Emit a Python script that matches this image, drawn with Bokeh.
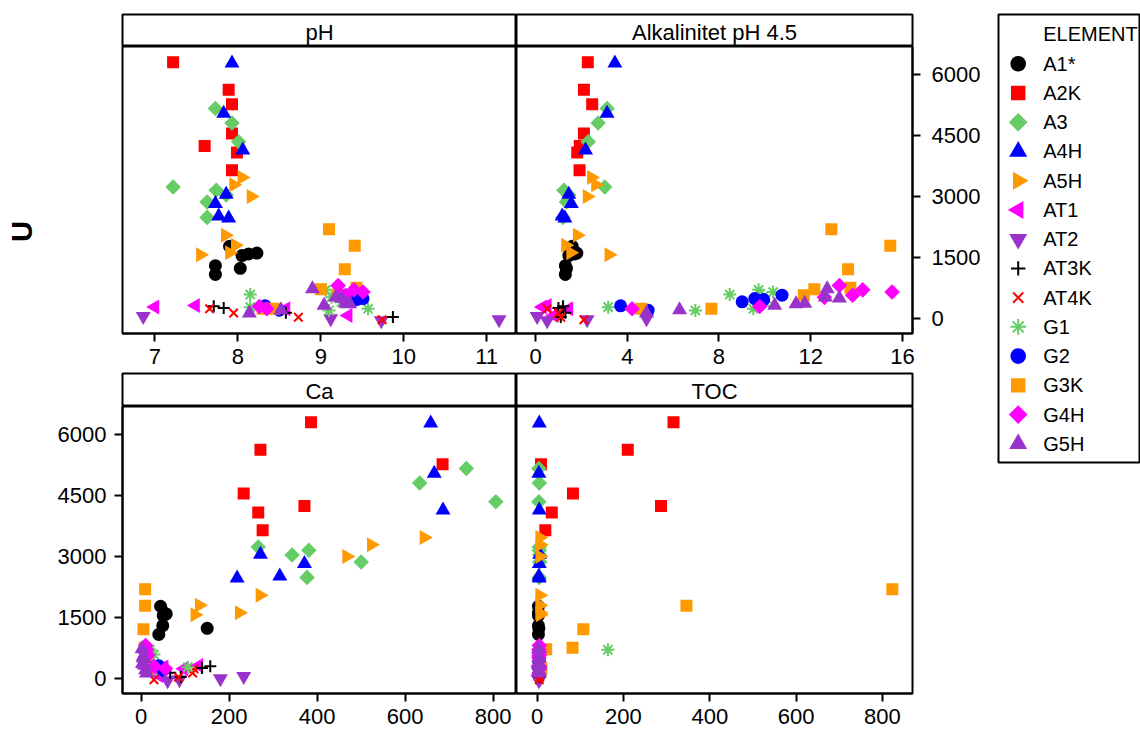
import math
from bokeh.plotting import figure
from bokeh.layouts import row, column
from bokeh.models import Range1d, FixedTicker, ColumnDataSource
from bokeh.core.properties import value
from bokeh.embed import file_html
from bokeh.resources import INLINE

FONT = "Liberation Sans"

ELEMENTS = ["A1*", "A2K", "A3", "A4H", "A5H", "AT1", "AT2", "AT3K", "AT4K",
            "G1", "G2", "G3K", "G4H", "G5H"]
PANELS = ["pH", "Alkalinitet pH 4.5", "Ca", "TOC"]
X_TICKS_PH = [7, 8, 9, 10, 11]
X_TICKS_ALK = [0, 4, 8, 12, 16]
X_TICKS_CA = [0, 200, 400, 600, 800]
X_TICKS_TOC = [0, 200, 400, 600, 800]
Y_TICKS = [0, 1500, 3000, 4500, 6000]

# ---- data per element: U, pH, Alkalinitet, Ca, TOC ----
A1_U = [1780, 1610, 1590, 1550, 1300, 1235, 1085]
A1_PH = [7.90, 8.23, 8.13, 8.05, 7.73, 8.03, 7.73]
A1_ALK = [1.60, 1.80, 1.70, 1.45, 1.30, 1.35, 1.30]
A1_CA = [44, 53, 57, 50, 49, 150, 40]
A1_TOC = [3, 3, 4, 3, 3, 4, 3]

A2K_U = [6310, 5635, 5280, 4555, 4250, 4090, 3650]
A2K_PH = [7.22, 7.89, 7.93, 7.93, 7.60, 7.99, 7.93]
A2K_ALK = [2.28, 2.11, 2.47, 2.11, 1.93, 1.82, 1.92]
A2K_CA = [386, 271, 685, 233, 371, 266, 276]
A2K_TOC = [316, 210, 9, 83, 287, 34, 19]

A3_U = [5175, 4815, 4355, 3240, 3160, 3040, 2870, 2490]
A3_PH = [7.73, 7.93, 8.01, 7.22, 7.74, 7.86, 7.63, 7.63]
A3_ALK = [3.12, 2.73, 2.30, 3.02, 1.24, 1.45, 1.35, 1.20]
A3_CA = [739, 633, 806, 266, 381, 343, 500, 377]
A3_TOC = [4, 5, 4, 5, 5, 6, 6, 5]

A4H_U = [6290, 5050, 4145, 3055, 2830, 2520, 2470]
A4H_PH = [7.93, 7.83, 8.06, 7.86, 7.73, 7.77, 7.89]
A4H_ALK = [3.46, 3.12, 2.18, 1.45, 1.56, 1.16, 1.28]
A4H_CA = [658, 666, 686, 271, 371, 315, 218]
A4H_TOC = [5, 4, 5, 6, 5, 4, 5]

A5H_U = [3475, 3295, 3005, 2050, 1805, 1570, 1620]
A5H_PH = [8.05, 7.95, 8.16, 7.85, 7.97, 7.55, 7.90]
A5H_ALK = [2.44, 2.62, 2.25, 1.82, 1.31, 3.20, 1.53]
A5H_CA = [643, 523, 467, 270, 132, 122, 223]
A5H_TOC = [6, 7, 6, 6, 6, 7, 6]

AT1_U = [280, 320, 240, 75]
AT1_PH = [7.00, 7.49, 8.58, 9.33]
AT1_ALK = [0.30, 0.51, 1.45, 0.80]
AT1_CA = [52, 131, 97, 40]
AT1_TOC = [5, 5, 6, 4]

AT2_U = [50, 0, -50, -30]
AT2_PH = [6.86, 9.12, 9.73, 11.15]
AT2_ALK = [0.07, 4.84, 0.51, 2.25]
AT2_CA = [233, 180, 60, 87]
AT2_TOC = [5, 6, 4, 5]

AT3K_U = [300, 260, 140, 35]
AT3K_PH = [7.71, 7.83, 8.58, 9.87]
AT3K_ALK = [1.20, 1.00, 1.30, 1.10]
AT3K_CA = [157, 138, 66, 90]
AT3K_TOC = [5, 5, 4, 6]

AT4K_U = [240, 135, 30, -30]
AT4K_PH = [7.66, 7.95, 8.73, 9.74]
AT4K_ALK = [0.50, 1.00, 1.10, 2.11]
AT4K_CA = [120, 117, 85, 29]
AT4K_TOC = [5, 4, 6, 5]

G1_U = [705, 650, 590, 524, 401, 279, 238, 197]
G1_PH = [9.06, 9.20, 8.15, 9.13, 9.25, 8.15, 9.57, 9.10]
G1_ALK = [9.73, 10.36, 8.47, 9.90, 10.00, 3.17, 9.50, 6.97]
G1_CA = [20, 15, 29, 18, 12, 106, 20, 25]
G1_TOC = [164, 5, 5, 4, 5, 6, 5, 4]

G2_U = [575, 490, 465, 410, 312, 205]
G2_PH = [9.25, 9.51, 9.43, 9.35, 8.33, 8.50]
G2_ALK = [10.75, 9.56, 9.95, 9.01, 3.71, 4.91]
G2_CA = [10, 8, 6, 12, 40, 50]
G2_TOC = [4, 5, 5, 4, 6, 5]

G3K_U = [2200, 1790, 1215, 760, 720, 570, 240, 240]
G3K_PH = [9.10, 9.41, 9.29, 9.43, 9.00, 9.20, 8.44, 8.30]
G3K_ALK = [12.90, 15.47, 13.63, 13.73, 12.16, 11.70, 7.67, 4.62]
G3K_CA = [9, 9, 5, 8, 10, 12, 15, 20]
G3K_TOC = [823, 346, 107, 82, 21, 5, 8, 10]

G4H_U = [810, 705, 650, 570, 520, 295, 240]
G4H_PH = [9.21, 9.40, 9.51, 9.30, 9.25, 8.26, 8.35]
G4H_ALK = [13.25, 14.27, 15.55, 13.83, 12.60, 9.78, 4.21]
G4H_CA = [10, 12, 8, 15, 10, 30, 55]
G4H_TOC = [5, 4, 6, 5, 4, 6, 5]

G5H_U = [730, 524, 500, 370, 361, 320, 213, 131]
G5H_PH = [8.90, 9.18, 9.25, 9.30, 9.35, 9.04, 8.52, 8.14]
G5H_ALK = [12.72, 12.64, 13.25, 11.74, 11.36, 10.43, 6.28, 4.84]
G5H_CA = [2, 4, 6, 3, 5, 8, 10, 12]
G5H_TOC = [3, 4, 5, 4, 3, 5, 4, 5]

DATA = {
    "A1*": (A1_U, A1_PH, A1_ALK, A1_CA, A1_TOC),
    "A2K": (A2K_U, A2K_PH, A2K_ALK, A2K_CA, A2K_TOC),
    "A3": (A3_U, A3_PH, A3_ALK, A3_CA, A3_TOC),
    "A4H": (A4H_U, A4H_PH, A4H_ALK, A4H_CA, A4H_TOC),
    "A5H": (A5H_U, A5H_PH, A5H_ALK, A5H_CA, A5H_TOC),
    "AT1": (AT1_U, AT1_PH, AT1_ALK, AT1_CA, AT1_TOC),
    "AT2": (AT2_U, AT2_PH, AT2_ALK, AT2_CA, AT2_TOC),
    "AT3K": (AT3K_U, AT3K_PH, AT3K_ALK, AT3K_CA, AT3K_TOC),
    "AT4K": (AT4K_U, AT4K_PH, AT4K_ALK, AT4K_CA, AT4K_TOC),
    "G1": (G1_U, G1_PH, G1_ALK, G1_CA, G1_TOC),
    "G2": (G2_U, G2_PH, G2_ALK, G2_CA, G2_TOC),
    "G3K": (G3K_U, G3K_PH, G3K_ALK, G3K_CA, G3K_TOC),
    "G4H": (G4H_U, G4H_PH, G4H_ALK, G4H_CA, G4H_TOC),
    "G5H": (G5H_U, G5H_PH, G5H_ALK, G5H_CA, G5H_TOC),
}

# marker, colour, size, angle
STYLE = {
    "A1*": ("circle", "#000000", 13, 0),
    "A2K": ("square", "#FF0000", 12, 0),
    "A3": ("square", "#66CC66", 11, math.pi / 4),
    "A4H": ("triangle", "#0000FF", 15, 0),
    "A5H": ("triangle", "#FF9900", 15, -math.pi / 2),
    "AT1": ("triangle", "#FF00FF", 15, math.pi / 2),
    "AT2": ("inverted_triangle", "#9933CC", 15, 0),
    "AT3K": ("cross", "#000000", 12, 0),
    "AT4K": ("x", "#FF0000", 12, 0),
    "G1": ("asterisk", "#66CC66", 13, 0),
    "G2": ("circle", "#0000FF", 13, 0),
    "G3K": ("square", "#FF9900", 12, 0),
    "G4H": ("square", "#FF00FF", 11, math.pi / 4),
    "G5H": ("triangle", "#9933CC", 15, 0),
}
LINE_MARKERS = {"cross", "x", "asterisk"}


def add_markers(p, xs, ys, el, scale=1.0):
    m, c, s, a = STYLE[el]
    src = ColumnDataSource(dict(x=xs, y=ys))
    if m in LINE_MARKERS:
        p.scatter("x", "y", source=src, marker=m, size=s * scale, angle=a,
                  line_color=c, line_width=2, fill_color=None)
    else:
        p.scatter("x", "y", source=src, marker=m, size=s * scale, angle=a,
                  fill_color=c, line_color=None)


def style_axes(p, side_standoff):
    for ax in p.axis:
        ax.axis_line_width = 2
        ax.axis_line_color = "black"
        ax.major_tick_line_width = 2
        ax.major_tick_out = 8
        ax.major_tick_in = 0
        ax.minor_tick_out = 0
        ax.minor_tick_in = 0
        ax.major_label_text_font = FONT
        ax.major_label_text_font_size = "22px"
        ax.major_label_text_color = "black"
    for ax in p.xaxis:
        ax.major_label_standoff = 7
    for ax in p.yaxis:
        ax.major_label_standoff = side_standoff
        ax.ticker = FixedTicker(ticks=Y_TICKS)


def panel(col_idx, xr, ticks, width, height, mbl, mbr, mbb, yloc, standoff):
    p = figure(width=width, height=height, x_range=Range1d(*xr),
               y_range=Range1d(-370, 6700), min_border_left=mbl,
               min_border_right=mbr, min_border_top=0, min_border_bottom=mbb,
               toolbar_location=None, output_backend="svg",
               y_axis_location=yloc)
    p.grid.visible = False
    p.outline_line_color = "black"
    p.outline_line_width = 2
    p.outline_line_alpha = 1
    p.background_fill_color = "white"
    p.border_fill_color = "white"
    p.xaxis.ticker = FixedTicker(ticks=ticks)
    style_axes(p, standoff)
    for el in ELEMENTS:
        d = DATA[el]
        add_markers(p, d[col_idx], d[0], el)
    return p


def strip(text, width, height, mbl, mbr, mbt):
    s = figure(width=width, height=height, x_range=Range1d(0, 1),
               y_range=Range1d(0, 1), min_border_left=mbl, min_border_right=mbr,
               min_border_top=mbt, min_border_bottom=0, toolbar_location=None,
               output_backend="svg", x_axis_location=None, y_axis_location=None)
    s.grid.visible = False
    s.outline_line_color = "black"
    s.outline_line_width = 2
    s.outline_line_alpha = 1
    s.text(x=[0.5], y=[0.45], text=[text], text_align="center",
           text_baseline="middle", text_font=value(FONT),
           text_font_size="22px", text_color="black")
    return s


# Top row
s_tl = strip(PANELS[0], 471, 46, 77, 0, 14)
s_tr = strip(PANELS[1], 481, 46, 0, 85, 14)
p_tl = panel(1, (6.61, 11.36), X_TICKS_PH, 471, 326, 77, 0, 39, None, 8)
p_tr = panel(2, (-0.83, 16.44), X_TICKS_ALK, 481, 326, 0, 85, 39, "right", 11)
# Bottom row
s_bl = strip(PANELS[2], 471, 34, 77, 0, 1)
s_br = strip(PANELS[3], 481, 34, 0, 85, 1)
p_bl = panel(3, (-42.5, 853), X_TICKS_CA, 471, 323, 77, 0, 36, "left", 8)
p_br = panel(4, (-47.8, 869.7), X_TICKS_TOC, 481, 323, 0, 85, 36, None, 8)

# Shared y label
u_fig = figure(width=45, height=729, x_range=Range1d(0, 45), y_range=Range1d(0, 729),
               min_border=0, toolbar_location=None, output_backend="svg",
               x_axis_location=None, y_axis_location=None)
u_fig.grid.visible = False
u_fig.outline_line_color = None
u_fig.text(x=[21], y=[376], text=["U"], angle=math.pi / 2, text_align="center",
           text_baseline="middle", text_font=value(FONT), text_font_size="29px",
           text_font_style="bold", text_color="black")

# Legend panel (drawn as its own small figure)
leg = figure(width=143, height=729, x_range=Range1d(0, 141), y_range=Range1d(0, 448),
             min_border_left=1, min_border_right=1, min_border_top=14,
             min_border_bottom=267, toolbar_location=None, output_backend="svg",
             x_axis_location=None, y_axis_location=None)
leg.grid.visible = False
leg.outline_line_color = "black"
leg.outline_line_width = 2
leg.outline_line_alpha = 1
leg.text(x=[44.7], y=[428.7], text=["ELEMENT"], text_align="left",
         text_baseline="middle", text_font=value(FONT), text_font_size="20px",
         text_color="black")
for i, el in enumerate(ELEMENTS):
    yy = 448 - (63.3 - 14 + 29.23 * i)
    add_markers(leg, [19.7], [yy], el, scale=1.2)
    leg.text(x=[44.7], y=[yy], text=[el], text_align="left", text_baseline="middle",
             text_font=value(FONT), text_font_size="20px", text_color="black")

grid = column(row(s_tl, s_tr), row(p_tl, p_tr), row(s_bl, s_br), row(p_bl, p_br))
layout = row(u_fig, grid, leg)

open("out.html", "w").write(file_html(layout, INLINE))
